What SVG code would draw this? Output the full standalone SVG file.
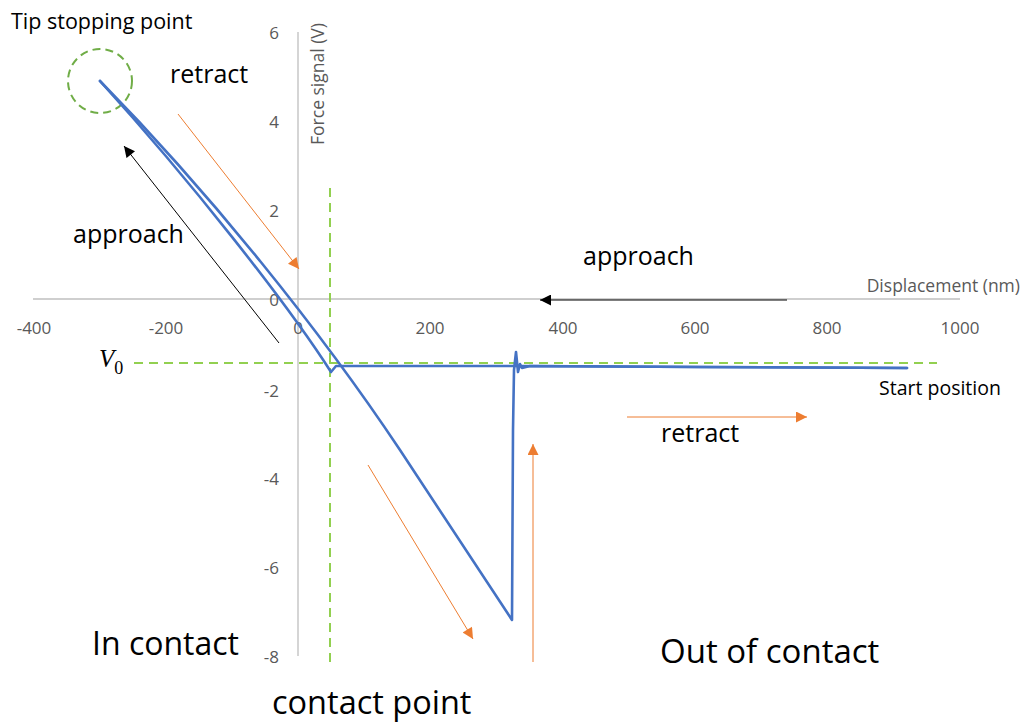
<svg xmlns="http://www.w3.org/2000/svg" width="1025" height="722" viewBox="0 0 1025 722">
<style>
.tick{font-family:"Open Sans","Noto Sans",sans-serif;font-size:17px;fill:#595959}
.title{font-family:"Open Sans","Noto Sans",sans-serif;font-size:17.5px;fill:#595959}
.ann{font-family:"Open Sans","Noto Sans",sans-serif;fill:#000}
.axis{stroke:#BFBFBF;stroke-width:1.3;fill:none}
.blue{stroke:#4472C4;stroke-width:2.6;fill:none;stroke-linejoin:round;stroke-linecap:round}
.gdash{stroke:#92D050;stroke-width:2;fill:none;stroke-dasharray:9 6}
.oarrow{stroke:#ED7D31;stroke-width:1;fill:none;marker-end:url(#oh)}
.karrow{stroke:#000;stroke-width:1;fill:none;marker-end:url(#kh)}
</style>
<defs>
<marker id="oh" viewBox="0 0 10 10" refX="10" refY="5" markerWidth="13" markerHeight="11" markerUnits="userSpaceOnUse" orient="auto"><path d="M0,0 L10,5 L0,10 z" fill="#ED7D31"/></marker>
<marker id="kh" viewBox="0 0 10 10" refX="10" refY="5" markerWidth="13" markerHeight="11" markerUnits="userSpaceOnUse" orient="auto"><path d="M0,0 L10,5 L0,10 z" fill="#000"/></marker>
</defs>
<rect width="1025" height="722" fill="#fff"/>
<g id="axes">
<line class="axis" x1="33" y1="299" x2="960" y2="299"/>
<line class="axis" x1="298" y1="32" x2="298" y2="656"/>
<g class="tick" text-anchor="end">
<text x="279" y="39">6</text>
<text x="279" y="128">4</text>
<text x="279" y="217">2</text>
<text x="279" y="306">0</text>
<text x="279" y="397">-2</text>
<text x="279" y="485">-4</text>
<text x="279" y="574">-6</text>
<text x="279" y="663">-8</text>
</g>
<g class="tick" text-anchor="middle">
<text x="34" y="334">-400</text>
<text x="166" y="334">-200</text>
<text x="298" y="334">0</text>
<text x="430" y="334">200</text>
<text x="563" y="334">400</text>
<text x="695" y="334">600</text>
<text x="827" y="334">800</text>
<text x="960" y="334">1000</text>
</g>
<text class="title" x="1020" y="292" text-anchor="end">Displacement (nm)</text>
<text class="title" transform="translate(324,84) rotate(-90)" text-anchor="middle">Force signal (V)</text>
</g>
<g id="guides">
<line class="gdash" x1="330" y1="188" x2="330" y2="668"/>
<line class="gdash" x1="134" y1="363" x2="937" y2="363"/>
<circle cx="100" cy="81" r="32" fill="none" stroke="#70AD47" stroke-width="2" stroke-dasharray="8 5"/>
</g>
<g id="curves">
<path class="blue" d="M907,368 L700,367 L520,366 L336,366 L331,372 C286,302 190,180 100,81"/>
<path class="blue" d="M100,81 C210,193 320,330 400,450 L512,620 L513,430 L514,370 L516,352 L518,372 L520,364 L522,368 L530,366 L700,367 L907,368"/>
</g>
<g id="connectors">
<line class="karrow" x1="279" y1="343" x2="124" y2="146"/>
<line class="oarrow" x1="178" y1="114" x2="299" y2="269"/>
<line class="oarrow" x1="368" y1="465" x2="473" y2="639"/>
<line class="oarrow" x1="533" y1="662" x2="533" y2="444"/>
<line class="karrow" x1="787" y1="300" x2="540" y2="300"/>
<line class="oarrow" x1="627" y1="417" x2="807" y2="417"/>
</g>
<g id="labels">
<text class="ann" x="11" y="29" font-size="21.5">Tip stopping point</text>
<text class="ann" x="170" y="83" font-size="25">retract</text>
<text class="ann" x="73" y="243" font-size="25">approach</text>
<text class="ann" x="583" y="265" font-size="25">approach</text>
<text class="ann" x="661" y="442" font-size="25">retract</text>
<text class="ann" x="879" y="395" font-size="19.5">Start position</text>
<text class="ann" x="92" y="655" font-size="32">In contact</text>
<text class="ann" x="660" y="663" font-size="33">Out of contact</text>
<text class="ann" x="272" y="714" font-size="32.5">contact point</text>
<text x="99" y="367" font-family="'Liberation Serif',serif" font-size="25" font-style="italic" fill="#000">V<tspan font-style="normal" font-size="18" dy="7">0</tspan></text>
</g>
</svg>
